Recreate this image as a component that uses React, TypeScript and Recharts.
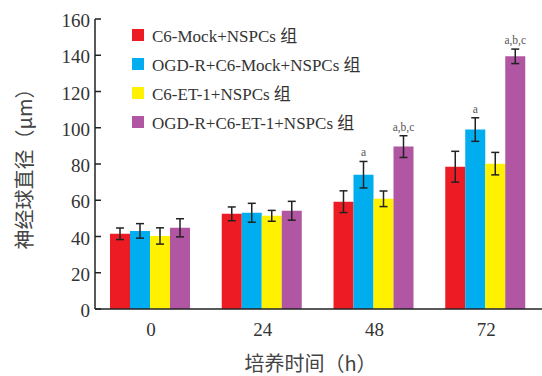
import React from 'react';
import { BarChart, Bar, XAxis, YAxis, ErrorBar, Legend, LabelList, Label } from 'recharts';

const categories = ['0', '24', '48', '72'];
const mockMean = [41.5, 52.5, 59.2, 78.5];
const mockErr = [3.2, 3.8, 6, 8.5];
const ogdMockMean = [43.1, 53.1, 74.1, 99];
const ogdMockErr = [4, 5.2, 7.3, 6.5];
const et1Mean = [40.3, 51.4, 60.8, 80.2];
const et1Err = [4.5, 3, 4.3, 6.2];
const ogdEt1Mean = [44.8, 54.2, 89.6, 139.4];
const ogdEt1Err = [5, 5.2, 6, 4];
const ogdMockSig = ['', '', 'a', 'a'];
const ogdEt1Sig = ['', '', 'a,b,c', 'a,b,c'];
const yTicks = [0, 20, 40, 60, 80, 100, 120, 140, 160];

const series = [
  { key: 'mock', name: 'C6-Mock+NSPCs 组', color: '#ED1C24' },
  { key: 'ogdMock', name: 'OGD-R+C6-Mock+NSPCs 组', color: '#00ADEF' },
  { key: 'et1', name: 'C6-ET-1+NSPCs 组', color: '#FFF100' },
  { key: 'ogdEt1', name: 'OGD-R+C6-ET-1+NSPCs 组', color: '#B056A2' },
];

const data = categories.map((c, i) => ({
  t: c,
  mock: mockMean[i],
  mockE: mockErr[i],
  ogdMock: ogdMockMean[i],
  ogdMockE: ogdMockErr[i],
  ogdMockS: ogdMockSig[i],
  et1: et1Mean[i],
  et1E: et1Err[i],
  ogdEt1: ogdEt1Mean[i],
  ogdEt1E: ogdEt1Err[i],
  ogdEt1S: ogdEt1Sig[i],
}));

const SERIF = '"Liberation Serif", "Times New Roman", "Noto Sans CJK SC", serif';
const CJK = '"Noto Sans CJK SC", sans-serif';

const YTick = (props: any) => {
  const { x, y, payload } = props;
  return (
    <g>
      <line x1={x + 5} x2={x + 11} y1={y} y2={y} stroke="#222" strokeWidth={1.5} />
      <text x={x} y={y + 1.5} dy="0.35em" textAnchor="end" fontFamily={SERIF} fontSize={19} fill="#333">
        {payload.value}
      </text>
    </g>
  );
};

const XTick = (props: any) => {
  const { x, y, payload } = props;
  return (
    <text x={x} y={y} dy="0.71em" textAnchor="middle" fontFamily={SERIF} fontSize={19} fill="#333">
      {payload.value}
    </text>
  );
};

const makeSig = (means: number[], errs: number[]) => (props: any) => {
  const { x, y, width, height, value, index } = props;
  if (!value) return null;
  const ppu = Number(height) / means[index];
  const ly = Number(y) - errs[index] * ppu - 5;
  return (
    <text x={Number(x) + Number(width) / 2} y={ly} textAnchor="middle" fontFamily={SERIF} fontSize={11.5} fill="#555">
      {value}
    </text>
  );
};

const LegendContent = () => (
  <div style={{ fontFamily: SERIF, fontSize: 17, color: '#333' }}>
    {series.map((s) => (
      <div key={s.key} style={{ display: 'flex', alignItems: 'center', height: 29, whiteSpace: 'nowrap' }}>
        <span style={{ display: 'inline-block', width: 12, height: 12, background: s.color, marginRight: 8 }} />
        <span>{s.name}</span>
      </div>
    ))}
  </div>
);

export default function App() {
  return (
    <div style={{ position: 'absolute', left: 0, top: 0, width: 542, height: 376, background: '#fff' }}>
      <BarChart
        width={542}
        height={376}
        data={data}
        margin={{ top: 19, right: 0, bottom: 0, left: 0 }}
        barCategoryGap={15}
        barGap={0}
      >
        <XAxis
          dataKey="t"
          height={67}
          tickLine={false}
          tickSize={0}
          tickMargin={14}
          tick={<XTick />}
          axisLine={{ stroke: '#222', strokeWidth: 1.5 }}
        >
          <Label
            content={(p: any) => {
              const vb = p.viewBox;
              return (
                <text x={vb.x + vb.width / 2 - 8} y={364} dy="0.35em" textAnchor="middle" fontFamily={CJK} fontSize={20} fill="#444">
                  培养时间（h）
                </text>
              );
            }}
          />
        </XAxis>
        <YAxis
          width={95}
          domain={[0, 160]}
          ticks={yTicks}
          interval={0}
          tickSize={0}
          tickMargin={5}
          tickLine={false}
          tick={<YTick />}
          axisLine={{ stroke: '#222', strokeWidth: 1.5 }}
        >
          <Label
            content={(p: any) => {
              const vb = p.viewBox;
              const cy = vb.y + vb.height / 2;
              return (
                <text x={25} y={cy} transform={`rotate(-90, 25, ${cy})`} dy="0.35em" textAnchor="middle" fontFamily={CJK} fontSize={20} fill="#444">
                  神经球直径（μm）
                </text>
              );
            }}
          />
        </YAxis>
        <Legend
          layout="vertical"
          verticalAlign="middle"
          align="center"
          content={<LegendContent />}
          wrapperStyle={{ position: 'absolute', left: 132, top: 20, width: 260 }}
        />
        <Bar dataKey="mock" name={series[0].name} fill={series[0].color} isAnimationActive={false}>
          <ErrorBar dataKey="mockE" width={4} stroke="#222" strokeWidth={1.5} direction="y" />
        </Bar>
        <Bar dataKey="ogdMock" name={series[1].name} fill={series[1].color} isAnimationActive={false}>
          <ErrorBar dataKey="ogdMockE" width={4} stroke="#222" strokeWidth={1.5} direction="y" />
          <LabelList dataKey="ogdMockS" content={makeSig(ogdMockMean, ogdMockErr)} />
        </Bar>
        <Bar dataKey="et1" name={series[2].name} fill={series[2].color} isAnimationActive={false}>
          <ErrorBar dataKey="et1E" width={4} stroke="#222" strokeWidth={1.5} direction="y" />
        </Bar>
        <Bar dataKey="ogdEt1" name={series[3].name} fill={series[3].color} isAnimationActive={false}>
          <ErrorBar dataKey="ogdEt1E" width={4} stroke="#222" strokeWidth={1.5} direction="y" />
          <LabelList dataKey="ogdEt1S" content={makeSig(ogdEt1Mean, ogdEt1Err)} />
        </Bar>
      </BarChart>
    </div>
  );
}
